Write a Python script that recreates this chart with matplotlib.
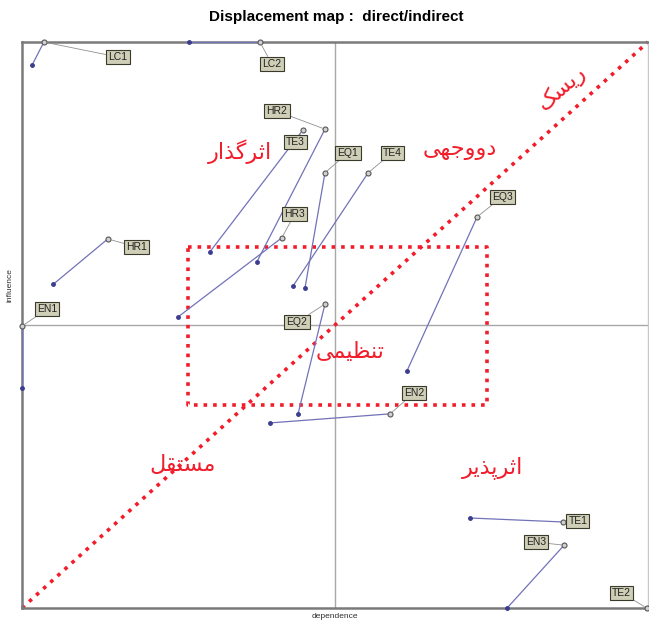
import numpy as np
import matplotlib.pyplot as plt

# variables: direct position -> indirect position (dependence, influence)
names = ['LC1', 'LC2', 'HR2', 'TE3', 'EQ1', 'TE4', 'HR3', 'HR1',
         'EN1', 'EQ2', 'EN2', 'EQ3', 'TE1', 'EN3', 'TE2']
dep_direct = [3.5, 38.0, 48.4, 44.9, 48.4, 55.3, 41.5, 13.7,
              0.0, 48.4, 58.8, 72.7, 86.4, 86.6, 99.8]
inf_direct = [100.0, 100.0, 84.6, 84.5, 76.9, 76.9, 65.4, 65.2,
              49.8, 53.7, 34.3, 69.1, 15.2, 11.1, 0.0]
dep_indirect = [1.6, 26.7, 37.5, 30.0, 45.2, 43.3, 24.9, 5.0,
                0.0, 44.1, 39.6, 61.5, 71.6, 77.5, 99.8]
inf_indirect = [95.9, 100.0, 61.1, 62.9, 56.5, 56.9, 51.4, 57.2,
                38.9, 34.3, 32.7, 41.9, 15.9, 0.0, 0.0]

# quadrant names
zones = ['ریسک', 'دووجهی', 'اثرگذار', 'تنظیمی', 'مستقل', 'اثرپذیر']

# label offsets in pixels from the direct point
offs = {'LC1': (74, -15), 'LC2': (12, -22), 'HR2': (-48, 18), 'TE3': (-8, -12),
        'EQ1': (23, 20), 'TE4': (24, 20), 'HR3': (13, 24), 'HR1': (29, -8),
        'EN1': (25, 17), 'EQ2': (-28, -18), 'EN2': (24, 21), 'EQ3': (25, 20),
        'TE1': (15, 1), 'EN3': (-28, 3), 'TE2': (-25, 15)}

# simple arabic/persian shaping (contextual forms + visual order)
FORMS = {
    'ا': '\uFE8D\uFE8E', 'ث': '\uFE99\uFE9A\uFE9B\uFE9C', 'ر': '\uFEAD\uFEAE',
    'گ': '\uFB92\uFB93\uFB94\uFB95', 'ذ': '\uFEAB\uFEAC', 'پ': '\uFB56\uFB57\uFB58\uFB59',
    'ی': '\uFBFC\uFBFD\uFBFE\uFBFF', 'س': '\uFEB1\uFEB2\uFEB3\uFEB4',
    'ک': '\uFB8E\uFB8F\uFB90\uFB91', 'د': '\uFEA9\uFEAA', 'و': '\uFEED\uFEEE',
    'ج': '\uFE9D\uFE9E\uFE9F\uFEA0', 'ه': '\uFEE9\uFEEA\uFEEB\uFEEC',
    'ت': '\uFE95\uFE96\uFE97\uFE98', 'ن': '\uFEE5\uFEE6\uFEE7\uFEE8',
    'ظ': '\uFEC5\uFEC6\uFEC7\uFEC8', 'م': '\uFEE1\uFEE2\uFEE3\uFEE4',
    'ق': '\uFED5\uFED6\uFED7\uFED8', 'ل': '\uFEDD\uFEDE\uFEDF\uFEE0',
}


def shape(word):
    out = []
    n = len(word)
    for i, ch in enumerate(word):
        f = FORMS[ch]
        prev = i > 0 and len(FORMS[word[i - 1]]) == 4
        nxt = i < n - 1 and len(f) == 4
        if prev and nxt:
            out.append(f[3])
        elif prev:
            out.append(f[1])
        elif nxt:
            out.append(f[2])
        else:
            out.append(f[0])
    return ''.join(reversed(out))


fig = plt.figure(figsize=(6.49, 6.23), dpi=100)
ax = fig.add_axes([22 / 649, 15 / 623, 626 / 649, 566 / 623])
ax.set_xlim(0, 100)
ax.set_ylim(0, 100)
ax.set_xticks([])
ax.set_yticks([])
for s in ['left', 'top', 'bottom']:
    ax.spines[s].set_color('#7a7a7a')
    ax.spines[s].set_linewidth(1.8)
ax.spines['right'].set_color('#c8c8c8')
ax.spines['right'].set_linewidth(1)

# crosshair
ax.axvline(50, color='#a8a8a8', lw=1)
ax.axhline(50, color='#a8a8a8', lw=1)

# red dotted diagonal and central box
red = '#f21c2a'
ax.plot([0, 100], [0, 100], color=red, lw=2.6, ls=':', clip_on=False)
bx = [26.5, 74.3, 74.3, 26.5, 26.5]
by = [63.8, 63.8, 35.9, 35.9, 63.8]
ax.plot(bx, by, color=red, lw=2.6, ls=':')

# displacement segments
for i, nm in enumerate(names):
    ax.plot([dep_direct[i], dep_indirect[i]], [inf_direct[i], inf_indirect[i]],
            color='#7272b8', lw=0.9, clip_on=False, zorder=3)
    ax.plot(dep_indirect[i], inf_indirect[i], 'o', ms=2.5, color='#3c3c90',
            clip_on=False, zorder=4)
    ax.plot(dep_direct[i], inf_direct[i], 'o', ms=3.6, mfc='#d0d0d0', mec='#555555',
            mew=0.8, clip_on=False, zorder=4)
    ax.annotate(nm, (dep_direct[i], inf_direct[i]), xytext=offs[nm],
                textcoords='offset pixels', ha='center', va='center',
                fontsize=7.5, family='Liberation Sans', color='#202020',
                bbox=dict(boxstyle='square,pad=0.2', fc='#cfcfb8', ec='#3a3a2a', lw=0.8),
                arrowprops=dict(arrowstyle='-', color='#909090', lw=0.6,
                                shrinkA=0, shrinkB=2),
                zorder=5)

# quadrant names
zpos = [(86.2, 91.8, 41), (70.0, 80.9, 0), (34.8, 80.6, 0),
        (52.4, 45.2, 0), (25.7, 25.3, 0), (75.2, 24.9, 0)]
for z, (zx, zy, rot) in zip(zones, zpos):
    ax.text(zx, zy, shape(z), color=red, fontsize=16, family='DejaVu Sans',
            ha='center', va='center', rotation=rot, zorder=6)

fig.text(336 / 649, 1 - 17 / 623, 'Displacement map :  direct/indirect',
         ha='center', va='center', fontsize=11, fontweight='bold',
         family='Liberation Sans')
fig.text(335 / 649, 1 - 617 / 623, 'dependence', ha='center', va='center',
         fontsize=6, family='Liberation Sans', color='#303030')
fig.text(10 / 649, 1 - 285 / 623, 'influence', ha='center', va='center',
         rotation=90, fontsize=6, family='Liberation Sans', color='#303030')

fig.savefig('out.png', dpi=100)
